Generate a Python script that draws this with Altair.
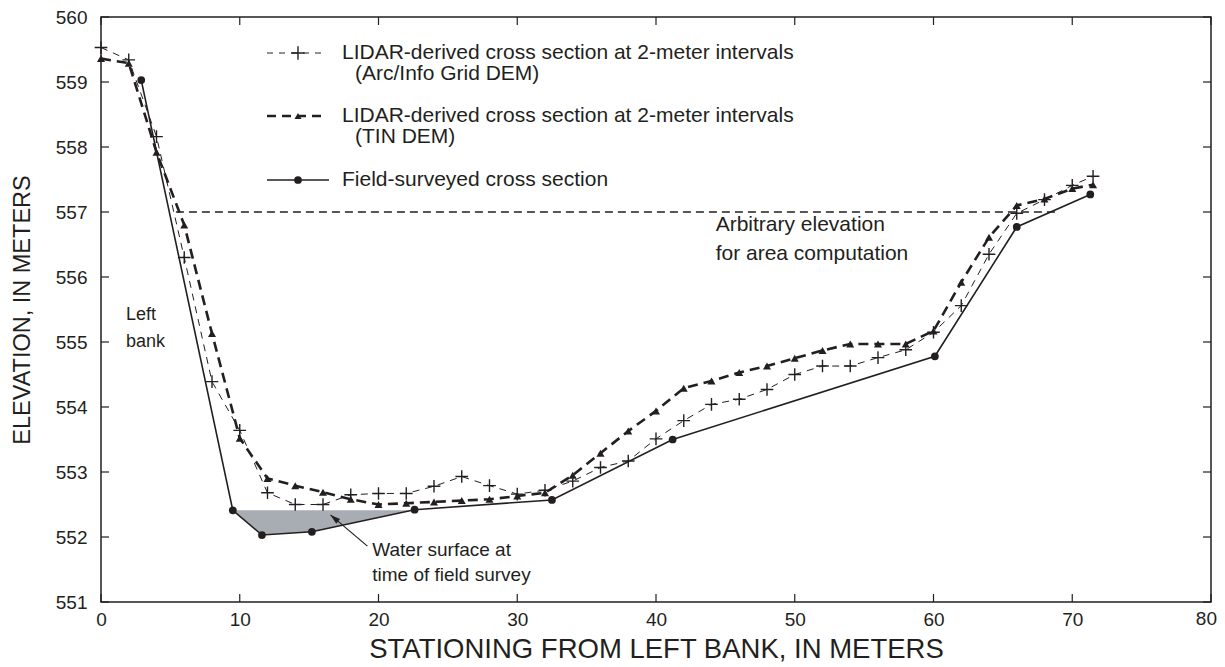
import altair as alt
import pandas as pd

# ---------------- data ----------------
x_ticks = [0, 10, 20, 30, 40, 50, 60, 70, 80]
y_ticks = [551, 552, 553, 554, 555, 556, 557, 558, 559, 560]

lidar_x = [0, 2, 4, 6, 8, 10, 12, 14, 16, 18, 20, 22, 24, 26, 28, 30, 32, 34, 36,
           38, 40, 42, 44, 46, 48, 50, 52, 54, 56, 58, 60, 62, 64, 66, 68, 70, 71.5]
grid_y = [559.53, 559.34, 558.16, 556.30, 554.39, 553.64, 552.68, 552.50, 552.50,
          552.65, 552.67, 552.67, 552.78, 552.93, 552.79, 552.66, 552.72, 552.86,
          553.07, 553.17, 553.51, 553.79, 554.04, 554.12, 554.27, 554.50, 554.63,
          554.63, 554.76, 554.88, 555.15, 555.56, 556.35, 556.98, 557.19, 557.41, 557.55]
tin_y = [559.36, 559.29, 557.92, 556.80, 555.13, 553.52, 552.90, 552.79, 552.69,
         552.58, 552.50, 552.52, 552.54, 552.56, 552.58, 552.63, 552.68, 552.95,
         553.29, 553.63, 553.94, 554.29, 554.40, 554.53, 554.63, 554.75, 554.87,
         554.97, 554.97, 554.97, 555.17, 555.92, 556.61, 557.10, 557.20, 557.36, 557.42]

field_x = [2.9, 9.5, 11.6, 15.2, 22.6, 32.5, 41.2, 60.1, 66.0, 71.3]
field_y = [559.03, 552.41, 552.03, 552.08, 552.42, 552.57, 553.50, 554.78, 556.77, 557.27]

water_x = [9.5, 11.6, 15.2, 22.6]
water_bottom = [552.41, 552.03, 552.08, 552.42]
water_level = 552.41

arbitrary_x = [5.4, 68.8]
arbitrary_elev = 557.0

arrow_x = [19.2, 16.54]
arrow_y = [551.86, 552.34]

notes_text = ["Left", "bank", "Arbitrary elevation", "for area computation",
              "Water surface at", "time of field survey"]
notes_x = [1.8, 1.8, 44.3, 44.3, 19.55, 19.55]
notes_y = [555.42, 555.0, 556.8, 556.36, 551.8, 551.42]
notes_size = [18, 18, 21, 21, 19, 19]

legend_labels = ["LIDAR-derived cross section at 2-meter intervals",
                 "(Arc/Info Grid DEM)",
                 "LIDAR-derived cross section at 2-meter intervals",
                 "(TIN DEM)",
                 "Field-surveyed cross section"]

# ---------------- styling ----------------
W, H = 1110, 585
INK = "#231f20"
FONT = "Liberation Sans"
PLUS = "M-1,0L1,0M0,-1L0,1"
ARROW = "M0,0L0.6,2L-0.6,2Z"
LAST_X = x_ticks[-1]

xs = alt.Scale(domain=[0, 80], nice=False, zero=False)
ys = alt.Scale(domain=[551, 560], nice=False, zero=False)
xaxis = alt.Axis(values=x_ticks, ticks=False, domain=False, grid=False,
                 labelFontSize=19, labelFont=FONT, labelColor=INK, labelPadding=8,
                 labelFlush=False,
                 labelExpr=f"datum.value == {LAST_X} ? '' : datum.label",
                 title="STATIONING FROM LEFT BANK, IN METERS", titleFontSize=27.5,
                 titleFont=FONT, titleFontWeight="normal", titleColor=INK, titlePadding=6)
yaxis = alt.Axis(values=y_ticks, ticks=False, domain=False, grid=False,
                 labelFontSize=19, labelFont=FONT, labelColor=INK, labelPadding=14,
                 labelFlush=False,
                 title="ELEVATION, IN METERS", titleFontSize=23.5,
                 titleFont=FONT, titleFontWeight="normal", titleColor=INK, titlePadding=21)


def X(f):
    return alt.X(f, type="quantitative", scale=xs, axis=xaxis)


def Y(f):
    return alt.Y(f, type="quantitative", scale=ys, axis=yaxis)


grid_df = pd.DataFrame({"x": lidar_x, "y": grid_y})
tin_df = pd.DataFrame({"x": lidar_x, "y": tin_y})
field_df = pd.DataFrame({"x": field_x, "y": field_y})
water_df = pd.DataFrame({"x": water_x, "y": water_bottom, "y2": [water_level] * len(water_x)})
arb_df = pd.DataFrame({"x": arbitrary_x, "y": [arbitrary_elev] * 2})
arrow_df = pd.DataFrame({"x": arrow_x, "y": arrow_y, "o": [0, 1]})
head_df = arrow_df.iloc[[1]]
notes_df = pd.DataFrame({"t": notes_text, "x": notes_x, "y": notes_y, "s": notes_size})
xt_df = pd.DataFrame({"v": x_ticks})
yt_df = pd.DataFrame({"v": y_ticks})
last_df = pd.DataFrame({"v": [LAST_X], "t": [str(LAST_X)]})
one = pd.DataFrame({"a": [0]})

layers = []

# water surface shading
layers.append(alt.Chart(water_df).mark_area(color="#a8adb4", opacity=1).encode(
    x=X("x"), y=Y("y"), y2="y2"))

# arbitrary elevation line
layers.append(alt.Chart(arb_df).mark_line(color=INK, strokeWidth=1.4, strokeDash=[8, 5]).encode(
    x=X("x"), y=Y("y")))

# series lines
layers.append(alt.Chart(grid_df).mark_line(color=INK, strokeWidth=1.0, strokeDash=[7, 6]).encode(
    x=X("x"), y=Y("y")))
layers.append(alt.Chart(tin_df).mark_line(color=INK, strokeWidth=2.6, strokeDash=[10, 6]).encode(
    x=X("x"), y=Y("y")))
layers.append(alt.Chart(field_df).mark_line(color=INK, strokeWidth=1.6).encode(
    x=X("x"), y=Y("y")))

# markers
layers.append(alt.Chart(grid_df).mark_point(shape=PLUS, filled=False, color=INK, strokeWidth=1.4,
                                            size=160, opacity=1).encode(x=X("x"), y=Y("y")))
layers.append(alt.Chart(tin_df).mark_point(shape="triangle-up", filled=True, color=INK,
                                           size=65, opacity=1).encode(x=X("x"), y=Y("y")))
layers.append(alt.Chart(field_df).mark_point(shape="circle", filled=True, color=INK,
                                             size=60, opacity=1).encode(x=X("x"), y=Y("y")))

# arrow
layers.append(alt.Chart(arrow_df).mark_line(color=INK, strokeWidth=1.2).encode(
    x=X("x"), y=Y("y"), order="o:Q"))
layers.append(alt.Chart(head_df).mark_point(shape=ARROW, filled=True, color=INK, size=100,
                                            angle=310, opacity=1).encode(x=X("x"), y=Y("y")))

# annotations
for sz in sorted(set(notes_size)):
    layers.append(alt.Chart(notes_df[notes_df.s == sz]).mark_text(
        align="left", baseline="middle", font=FONT, fontSize=sz, color=INK).encode(
        x=X("x"), y=Y("y"), text="t:N"))

# last x tick label kept inside the page
layers.append(alt.Chart(last_df).mark_text(align="right", baseline="top", dx=6, font=FONT,
                                           fontSize=19, color=INK).encode(
    x=X("v"), y=alt.value(H + 8), text="t:N"))

# inward ticks on all four sides
layers.append(alt.Chart(yt_df).mark_rule(color=INK, strokeWidth=1.2).encode(
    y=Y("v"), x=alt.value(0), x2=alt.value(8)))
layers.append(alt.Chart(yt_df).mark_rule(color=INK, strokeWidth=1.2).encode(
    y=Y("v"), x=alt.value(W - 8), x2=alt.value(W)))
layers.append(alt.Chart(xt_df).mark_rule(color=INK, strokeWidth=1.2).encode(
    x=X("v"), y=alt.value(0), y2=alt.value(8)))
layers.append(alt.Chart(xt_df).mark_rule(color=INK, strokeWidth=1.2).encode(
    x=X("v"), y=alt.value(H - 8), y2=alt.value(H)))

# legend (drawn by hand)
LX0, LX1, LXM, LT, LT2 = 166, 225, 197, 241, 254
R1, R2, R3 = 36, 99, 163
GAP = 21
layers.append(alt.Chart(one).mark_rule(color=INK, strokeWidth=1.0, strokeDash=[6, 6]).encode(
    x=alt.value(LX0), x2=alt.value(LX1), y=alt.value(R1)))
layers.append(alt.Chart(one).mark_point(shape=PLUS, filled=False, color=INK, strokeWidth=1.4,
                                        size=180, opacity=1).encode(x=alt.value(LXM), y=alt.value(R1)))
layers.append(alt.Chart(one).mark_rule(color=INK, strokeWidth=2.6, strokeDash=[9, 6]).encode(
    x=alt.value(LX0), x2=alt.value(LX1), y=alt.value(R2)))
layers.append(alt.Chart(one).mark_point(shape="triangle-up", filled=True, color=INK,
                                        size=50, opacity=1).encode(x=alt.value(LXM), y=alt.value(R2)))
layers.append(alt.Chart(one).mark_rule(color=INK, strokeWidth=1.6).encode(
    x=alt.value(LX0), x2=alt.value(LX1 + 3), y=alt.value(R3)))
layers.append(alt.Chart(one).mark_point(shape="circle", filled=True, color=INK,
                                        size=60, opacity=1).encode(x=alt.value(LXM), y=alt.value(R3)))
for txt, tx, ty in [(legend_labels[0], LT, R1), (legend_labels[1], LT2, R1 + GAP),
                    (legend_labels[2], LT, R2), (legend_labels[3], LT2, R2 + GAP),
                    (legend_labels[4], LT, R3)]:
    layers.append(alt.Chart(one).mark_text(align="left", baseline="middle", font=FONT,
                                           fontSize=21, color=INK, text=txt).encode(
        x=alt.value(tx), y=alt.value(ty)))

chart = alt.layer(*layers).properties(
    width=W, height=H,
    autosize=alt.AutoSizeParams(type="none"),
    padding={"left": 93, "top": 9, "right": 6, "bottom": 62},
    background="white",
).configure_view(stroke=INK, strokeWidth=1.5)

chart.save("out.html", embed_options={"renderer": "svg", "actions": False})
